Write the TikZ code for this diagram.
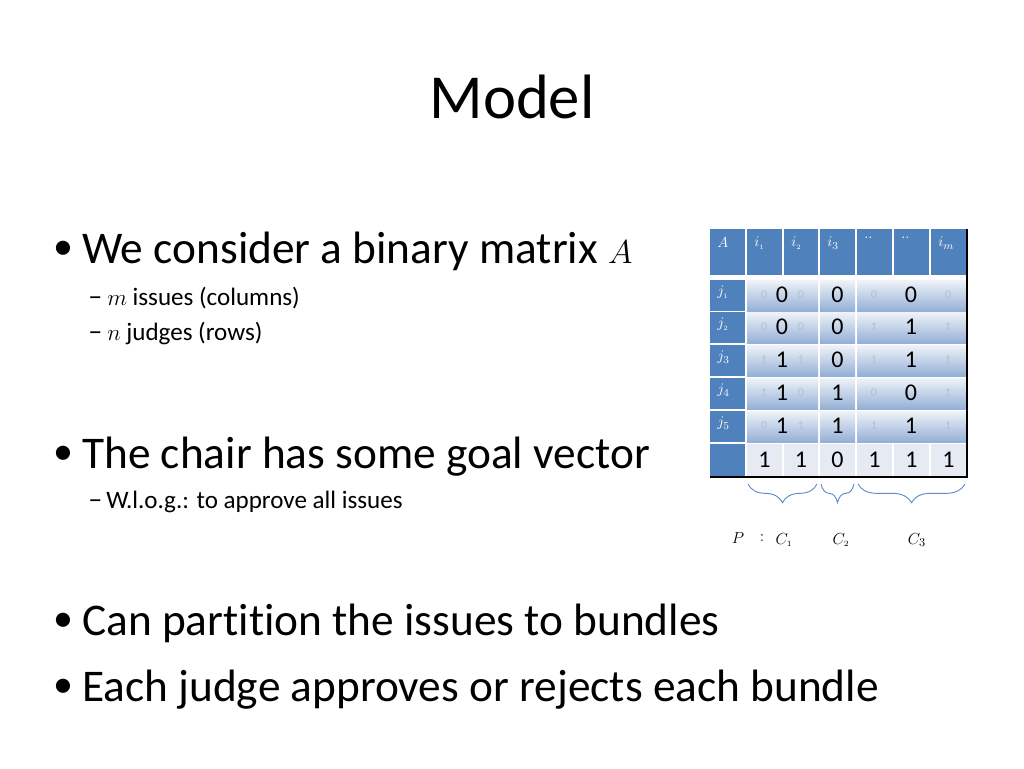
\documentclass[tikz,border=0pt]{standalone}
\usepackage{fontspec}
\setmainfont{Carlito}[Ligatures=CommonOff]
\usetikzlibrary{decorations.pathreplacing}
\definecolor{hdr}{HTML}{4F81BD}
\definecolor{celltop}{HTML}{F0F3F8}
\definecolor{cellbot}{HTML}{94B0D6}
\definecolor{sumc}{HTML}{E6EAF2}
\definecolor{faint}{HTML}{B4BFCE}
\definecolor{bracec}{HTML}{5F8BC8}
\tikzset{
  titlefont/.style={font=\fontsize{47}{56}\selectfont, inner sep=0pt},
  mainbul/.style={font=\fontsize{34}{40}\selectfont, anchor=base west, inner sep=0pt},
  bulletmark/.style={font=\fontsize{30}{34}\selectfont, inner sep=0pt},
  subbul/.style={font=\fontsize{18.8}{22}\selectfont, anchor=base west, inner sep=0pt},
  subdash/.style={font=\fontsize{21}{24}\selectfont, anchor=base west, inner sep=0pt},
  hlab/.style={font=\fontsize{11}{13}\selectfont, text=white, anchor=north west, inner sep=0pt},
  bignum/.style={font=\fontsize{18}{21}\selectfont, inner sep=0pt},
  faintnum/.style={font=\fontsize{9}{10}\selectfont, text=faint, inner sep=0pt},
  blab/.style={font=\fontsize{13}{15}\selectfont, inner sep=0pt},
  bundlebrace/.style={draw=bracec, line width=0.7pt, decorate, decoration={brace, mirror, amplitude=14pt}}
}
\begin{document}
\begin{tikzpicture}[x=0.75pt,y=-0.75pt]
\useasboundingbox (0,0) rectangle (1024,768);
% title
\node[titlefont] (title) at (512,97) {Model};
% bullets
\node[bulletmark] (b1) at (63.5,250) {\textbullet};
\node[mainbul] (t1) at (82,263) {We consider a binary matrix $A$};
\node[subdash] (d1) at (88,305) {–};
\node[subbul] (s1) at (107,305) {$m$ issues (columns)};
\node[subdash] (d2) at (88,340) {–};
\node[subbul] (s2) at (107,340) {$n$ judges (rows)};
\node[bulletmark] (b2) at (63.5,455) {\textbullet};
\node[mainbul] (t2) at (82,468) {The chair has some goal vector};
\node[subdash] (d3) at (88,508) {–};
\node[subbul] (s3) at (106,508) {W.l.o.g.: to approve all issues};
\node[bulletmark] (b3) at (63.5,622) {\textbullet};
\node[mainbul] (t3) at (82,635) {Can partition the issues to bundles};
\node[bulletmark] (b4) at (63.5,688) {\textbullet};
\node[mainbul] (t4) at (82,701) {Each judge approves or rejects each bundle};
% header row
\foreach \l/\r/\lab [count=\k] in {710/745/A,747/782/i_{\scriptscriptstyle 1},784/818/i_{\scriptscriptstyle 2},820/855/i_{3},857/892/..,894/929/..,931/966/i_{m}} {
  \fill[hdr] (\l,229) rectangle (\r,275);
  \node[hlab] (h\k) at (\l+7,237) {$\lab$};
}
% row headers and data cells
\foreach \t/\lab [count=\k] in {280/j_{\scriptscriptstyle 1},312/j_{\scriptscriptstyle 2},345/j_{3},378/j_{4},411/j_{5}} {
  \fill[hdr] (710,\t) rectangle (745,{\t+31});
  \node[hlab] (r\k) at (717,{\t+6}) {$\lab$};
  \shade[top color=celltop, bottom color=cellbot] (747,\t) rectangle (818,{\t+31});
  \shade[top color=celltop, bottom color=cellbot] (820,\t) rectangle (855,{\t+31});
  \shade[top color=celltop, bottom color=cellbot] (857,\t) rectangle (966,{\t+31});
}
% numbers in data rows
\foreach \y/\fa/\ba/\fb/\cc/\fc/\bc/\fd [count=\k] in {
  295/0/0/0/0/0/0/0,
  327/0/0/0/0/1/1/1,
  360/1/1/1/0/1/1/1,
  393/1/1/0/1/0/0/1,
  426/0/1/1/1/1/1/1} {
  \node[faintnum] (fa\k) at (764,\y) {\fa};
  \node[faintnum] (fb\k) at (801,\y) {\fb};
  \node[faintnum] (fc\k) at (874,\y) {\fc};
  \node[faintnum] (fd\k) at (948,\y) {\fd};
  \node[bignum] (ba\k) at (782,\y) {\ba};
  \node[bignum] (bb\k) at (837.5,\y) {\cc};
  \node[bignum] (bc\k) at (911,\y) {\bc};
}
% sum row
\fill[hdr] (710,444) rectangle (745,476);
\foreach \l/\r/\v [count=\k] in {747/782/1,784/818/1,820/855/0,857/892/1,894/929/1,931/966/1} {
  \fill[sumc] (\l,444) rectangle (\r,476);
  \node[bignum] (s\k) at ({(\l+\r)/2},460) {\v};
}
% shadow lines
\draw[line width=1.5pt] (966.5,229) -- (966.5,477) -- (710,477);
% braces
\coordinate (c1a) at (748,484); \coordinate (c1b) at (817,484);
\coordinate (c2a) at (821,484); \coordinate (c2b) at (854,484);
\coordinate (c3a) at (858,484); \coordinate (c3b) at (965,484);
\draw[bundlebrace] (c1a) -- (c1b);
\draw[bundlebrace] (c2a) -- (c2b);
\draw[bundlebrace] (c3a) -- (c3b);
% bundle labels
\node[blab] (P) at (738,538) {$P$};
\node[blab] (colon) at (762,538) {$:$};
\node[blab] (C1) at (784,540) {$C_{\scriptscriptstyle 1}$};
\node[blab] (C2) at (841,540) {$C_{\scriptscriptstyle 2}$};
\node[blab] (C3) at (917,540) {$C_{3}$};
\end{tikzpicture}
\end{document}
